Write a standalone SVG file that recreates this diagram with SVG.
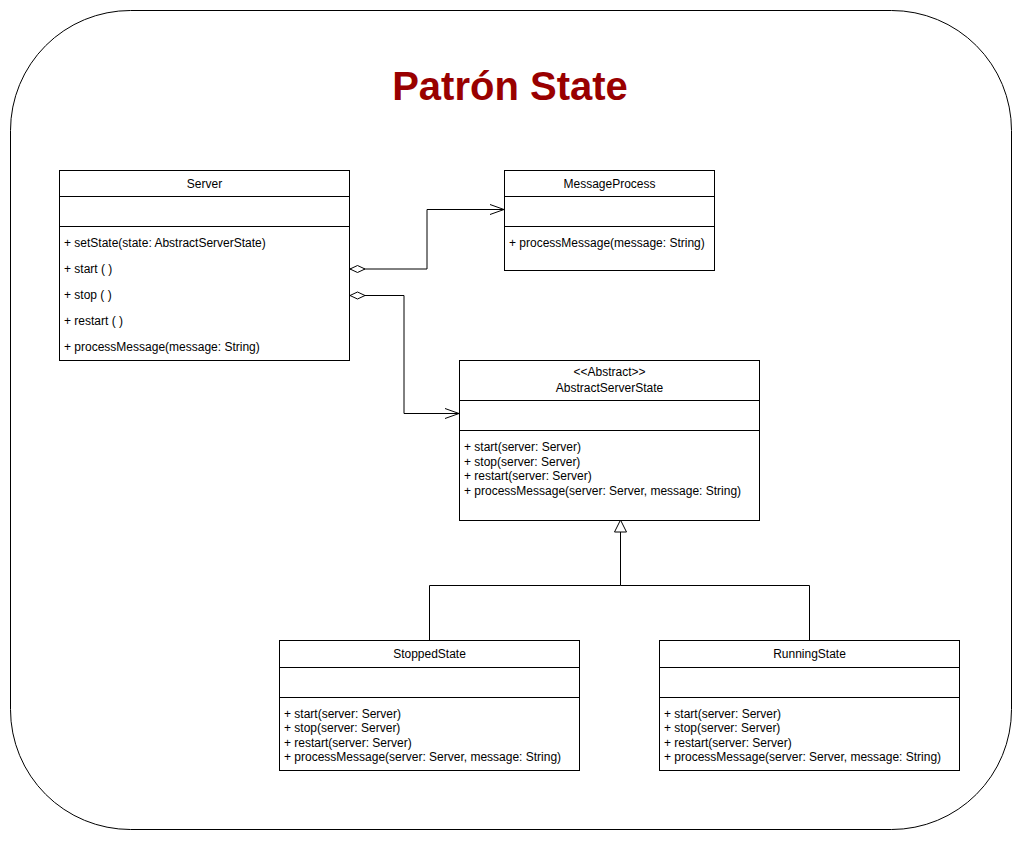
<svg xmlns="http://www.w3.org/2000/svg" width="1022" height="841" viewBox="0 0 1022 841">
<style>
.box{fill:#fff;stroke:#000;stroke-width:1}
.ln{stroke:#000;stroke-width:1;fill:none}
.t{font-family:"Liberation Sans",Arial,sans-serif;font-size:12px;fill:#000}
.c{text-anchor:middle}
.title{font-family:"Liberation Sans",Arial,sans-serif;font-size:40px;font-weight:bold;fill:#990000;text-anchor:middle}
</style>
<defs>
<marker id="open" viewBox="0 0 16 12" refX="15" refY="6" markerWidth="16" markerHeight="12" markerUnits="userSpaceOnUse" orient="auto">
<path d="M1,1 L15,6 L1,11" fill="none" stroke="#000" stroke-width="1"/>
</marker>
<marker id="diamond" viewBox="0 0 18 10" refX="1" refY="5" markerWidth="18" markerHeight="10" markerUnits="userSpaceOnUse" orient="auto">
<path d="M1,5 L8.5,1.5 L16,5 L8.5,8.5 Z" fill="#fff" stroke="#000" stroke-width="1"/>
</marker>
<marker id="tri" viewBox="0 0 14 16" refX="13" refY="7" markerWidth="14" markerHeight="16" markerUnits="userSpaceOnUse" orient="auto">
<path d="M1,1 L13,7 L1,13 Z" fill="#fff" stroke="#000" stroke-width="1"/>
</marker>
</defs>
<rect x="0" y="0" width="1022" height="841" fill="#fff"/>
<rect x="10.5" y="10.5" width="1001" height="819" rx="120" ry="120" fill="#fff" stroke="#000" stroke-width="1"/>
<text class="title" x="510" y="100">Patrón State</text>

<g id="connectors">
<path class="ln" d="M350,269 L427,269 L427,209.5 L504,209.5" marker-start="url(#diamond)" marker-end="url(#open)"/>
<path class="ln" d="M350,295.5 L404,295.5 L404,413.5 L459,413.5" marker-start="url(#diamond)" marker-end="url(#open)"/>
<path class="ln" d="M429.5,640 L429.5,585.5 L620.5,585.5 L620.5,520" marker-end="url(#tri)"/>
<path class="ln" d="M809.5,640 L809.5,585.5 L620.5,585.5"/>
</g>

<g id="Server">
<rect class="box" x="59.5" y="170.5" width="290" height="190"/>
<line class="ln" x1="59.5" y1="196.5" x2="349.5" y2="196.5"/>
<line class="ln" x1="59.5" y1="226.5" x2="349.5" y2="226.5"/>
<text class="t c" x="204.5" y="188">Server</text>
<text class="t" x="64" y="247">+ setState(state: AbstractServerState)</text>
<text class="t" x="64" y="273">+ start ( )</text>
<text class="t" x="64" y="299">+ stop ( )</text>
<text class="t" x="64" y="325">+ restart ( )</text>
<text class="t" x="64" y="351">+ processMessage(message: String)</text>
</g>

<g id="MessageProcess">
<rect class="box" x="504.5" y="170.5" width="210" height="100"/>
<line class="ln" x1="504.5" y1="196.5" x2="714.5" y2="196.5"/>
<line class="ln" x1="504.5" y1="226.5" x2="714.5" y2="226.5"/>
<text class="t c" x="609.5" y="188">MessageProcess</text>
<text class="t" x="509" y="247">+ processMessage(message: String)</text>
</g>

<g id="AbstractServerState">
<rect class="box" x="459.5" y="360.5" width="300" height="160"/>
<line class="ln" x1="459.5" y1="400.5" x2="759.5" y2="400.5"/>
<line class="ln" x1="459.5" y1="430.5" x2="759.5" y2="430.5"/>
<text class="t c" x="609.5" y="376">&lt;&lt;Abstract&gt;&gt;</text>
<text class="t c" x="609.5" y="392">AbstractServerState</text>
<text class="t" x="464" y="451">+ start(server: Server)</text>
<text class="t" x="464" y="466">+ stop(server: Server)</text>
<text class="t" x="464" y="480">+ restart(server: Server)</text>
<text class="t" x="464" y="495">+ processMessage(server: Server, message: String)</text>
</g>

<g id="StoppedState">
<rect class="box" x="279.5" y="640.5" width="300" height="130"/>
<line class="ln" x1="279.5" y1="667.5" x2="579.5" y2="667.5"/>
<line class="ln" x1="279.5" y1="697.5" x2="579.5" y2="697.5"/>
<text class="t c" x="429.5" y="658">StoppedState</text>
<text class="t" x="284" y="718">+ start(server: Server)</text>
<text class="t" x="284" y="732">+ stop(server: Server)</text>
<text class="t" x="284" y="747">+ restart(server: Server)</text>
<text class="t" x="284" y="761">+ processMessage(server: Server, message: String)</text>
</g>

<g id="RunningState">
<rect class="box" x="659.5" y="640.5" width="300" height="130"/>
<line class="ln" x1="659.5" y1="667.5" x2="959.5" y2="667.5"/>
<line class="ln" x1="659.5" y1="697.5" x2="959.5" y2="697.5"/>
<text class="t c" x="809.5" y="658">RunningState</text>
<text class="t" x="664" y="718">+ start(server: Server)</text>
<text class="t" x="664" y="732">+ stop(server: Server)</text>
<text class="t" x="664" y="747">+ restart(server: Server)</text>
<text class="t" x="664" y="761">+ processMessage(server: Server, message: String)</text>
</g>
</svg>
